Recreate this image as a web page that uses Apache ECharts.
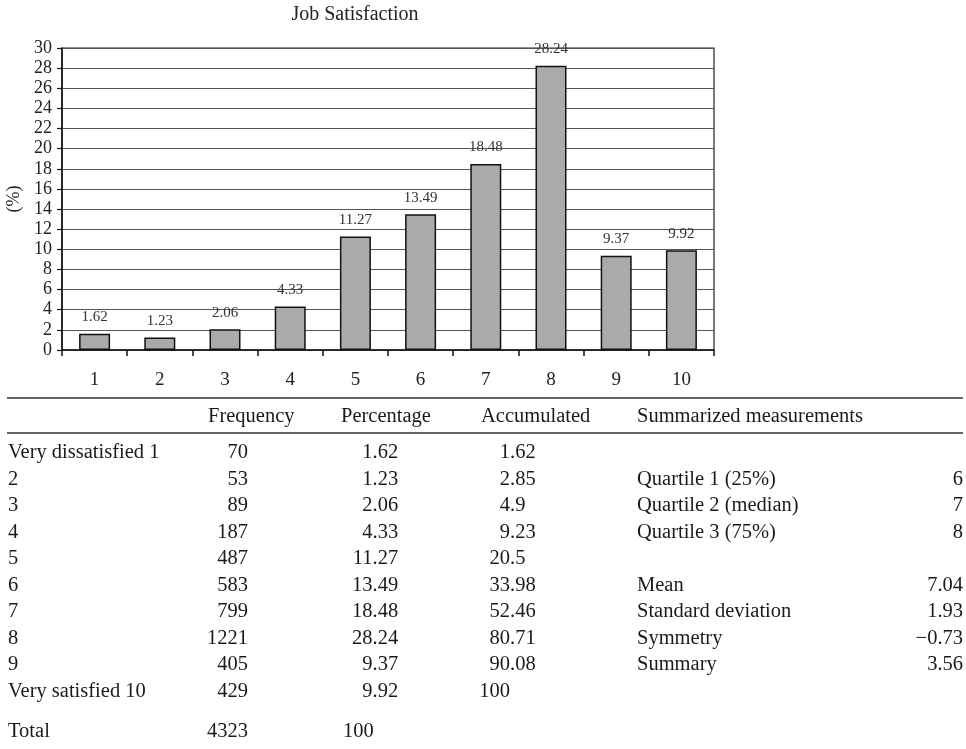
<!DOCTYPE html>
<html>
<head>
<meta charset="utf-8">
<script src="https://cdn.jsdelivr.net/npm/echarts@6/dist/echarts.min.js"></script>
<style>
html,body{margin:0;padding:0;background:#fff;}
#chart{width:966px;height:749px;}
</style>
</head>
<body>
<div id="chart"></div>
<script>
const categories = ['1','2','3','4','5','6','7','8','9','10'];
const percentages = [1.62, 1.23, 2.06, 4.33, 11.27, 13.49, 18.48, 28.24, 9.37, 9.92];
const frequencies = [70, 53, 89, 187, 487, 583, 799, 1221, 405, 429];
const accumulated = ['1.62','2.85','4.9','9.23','20.5','33.98','52.46','80.71','90.08','100'];
const rowLabels = ['Very dissatisfied 1','2','3','4','5','6','7','8','9','Very satisfied 10'];
const tableHeaders = ['Frequency','Percentage','Accumulated','Summarized measurements'];
const summaryLabels = ['','Quartile 1 (25%)','Quartile 2 (median)','Quartile 3 (75%)','','Mean','Standard deviation','Symmetry','Summary',''];
const summaryValues = ['','6','7','8','','7.04','1.93','\u22120.73','3.56',''];
const totalLabel = 'Total';
const totalFrequency = '4323';
const totalPercentage = '100';
const chartTitle = 'Job Satisfaction';
const yAxisName = '(%)';

const FONT = '"Liberation Serif", "Times New Roman", serif';
const chart = echarts.init(document.getElementById('chart'));

const TF = 20.5;
const TC = '#1a1a1a';
const g = [];
function txt(x, y, s, align) {
  g.push({type:'text', x:x, y:y, silent:true, style:{text:s, font: TF + 'px ' + FONT, fill:TC, align:align||'left', verticalAlign:'middle'}});
}
function dec(x, y, s) {
  const i = s.indexOf('.');
  const ip = i < 0 ? s : s.slice(0, i);
  const fp = i < 0 ? '' : s.slice(i);
  txt(x, y, ip, 'right');
  if (fp) txt(x, y, fp, 'left');
}
function hline(y) {
  g.push({type:'line', silent:true, shape:{x1:7, y1:y, x2:963, y2:y}, style:{stroke:'#333', lineWidth:1.6}});
}
hline(398);
hline(433);
const headerY = 417;
txt(208, headerY, tableHeaders[0]);
txt(341, headerY, tableHeaders[1]);
txt(481, headerY, tableHeaders[2]);
txt(637, headerY, tableHeaders[3]);
for (let r = 0; r < rowLabels.length; r++) {
  const y = 453 + r * 26.5;
  txt(8, y, rowLabels[r]);
  txt(248, y, String(frequencies[r]), 'right');
  dec(372.5, y, percentages[r].toFixed(2));
  dec(510, y, accumulated[r]);
  if (summaryLabels[r]) txt(637, y, summaryLabels[r]);
  if (summaryValues[r]) txt(963, y, summaryValues[r], 'right');
}
const totalY = 732;
txt(8, totalY, totalLabel);
txt(248, totalY, totalFrequency, 'right');
txt(343, totalY, totalPercentage);

g.push({type:'text', x:355, y:15, silent:true, style:{text:chartTitle, font:'20px ' + FONT, fill:'#222', align:'center', verticalAlign:'middle'}});

chart.setOption({
  animation:false,
  backgroundColor:'#fff',
  textStyle:{fontFamily:FONT},
  grid:{left:62, right:252, top:48, bottom:399, containLabel:false, outerBoundsMode:'none', show:true, borderColor:'#222', borderWidth:1.2, backgroundColor:'transparent'},
  xAxis:{
    type:'category',
    data:categories,
    axisLine:{lineStyle:{color:'#111', width:1.5}},
    axisTick:{show:true, length:6, lineStyle:{color:'#111', width:1.5}},
    axisLabel:{fontSize:19, color:'#222', margin:21, fontFamily:FONT},
    splitLine:{show:false}
  },
  yAxis:{
    type:'value',
    min:0, max:30, interval:2,
    name:yAxisName,
    nameLocation:'middle',
    nameRotate:90,
    nameGap:38,
    nameTextStyle:{fontSize:18, color:'#222', fontFamily:FONT},
    axisLine:{show:true, lineStyle:{color:'#111', width:1.5}},
    axisTick:{show:true, length:5, lineStyle:{color:'#111', width:1.2}},
    axisLabel:{fontSize:18, color:'#222', margin:10, fontFamily:FONT},
    splitLine:{show:true, lineStyle:{color:'#555', width:1}}
  },
  series:[{
    type:'bar',
    data:percentages,
    barWidth:31,
    itemStyle:{color:'#aaaaaa', borderColor:'#111', borderWidth:1.5},
    label:{show:true, position:'top', distance:9, fontSize:15, color:'#333', fontFamily:FONT},
    z:3
  }],
  graphic:g
});
</script>
</body>
</html>
